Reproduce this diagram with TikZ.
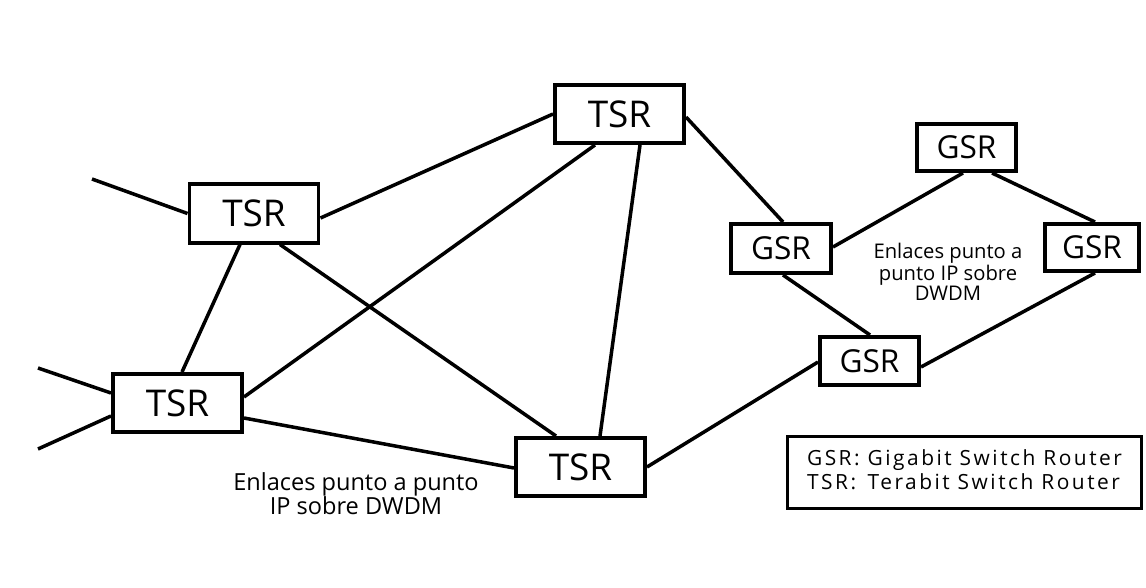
\documentclass[tikz,border=0pt]{standalone}
\usepackage{fontspec}
\setmainfont{Open Sans}
\newfontfamily\legendfont[LetterSpace=12]{Open Sans}
\usetikzlibrary{calc}
\begin{document}
\begin{tikzpicture}[x=0.02cm, y=-0.02cm,
  router/.style={draw, line width=2pt, inner sep=0pt, fill=white},
  tsr/.style={router, minimum width=2.59cm, minimum height=1.17cm,
              font=\fontsize{21}{24}\selectfont},
  gsr/.style={router, minimum width=1.99cm, minimum height=0.97cm,
              font=\fontsize{18}{20}\selectfont},
  link/.style={line width=2pt},
  note/.style={align=center, inner sep=0pt},
]
\useasboundingbox (0,0) rectangle (1146,588);

% Terabit routers
\node[tsr] (T1) at (619.5,114) {TSR};
\node[tsr] (T2) at (254,213.5) {TSR};
\node[tsr] (T3) at (177.5,403) {TSR};
\node[tsr] (T4) at (580.5,467) {TSR};

% Gigabit routers
\node[gsr, minimum width=2.01cm, minimum height=0.99cm] (G1) at (781,248.5) {GSR};
\node[gsr, minimum height=0.95cm] (G2) at (966.5,147.5) {GSR};
\node[gsr, minimum width=1.89cm, minimum height=0.95cm] (G3) at (1092,247.5) {GSR};
\node[gsr] (G4) at (869.5,361) {GSR};

% loose ends leaving the picture
\coordinate (fa) at (92,179);
\coordinate (fb) at (38,368);
\coordinate (fc) at (38,449);

% TSR core links
\draw[link] (fa) -- (T2.west);
\draw[link] (fb) -- ($(T3.west)+(0,-10)$);
\draw[link] (fc) -- ($(T3.west)+(0,13)$);
\draw[link] ($(T2.east)+(0,4.5)$) -- (T1.west);
\draw[link] ($(T2.south)+(-14,0)$) -- ($(T3.north)+(4.5,0)$);
\draw[link] ($(T2.south)+(26,0)$) -- ($(T4.north)+(-24.5,0)$);
\draw[link] ($(T3.east)+(0,-6)$) -- ($(T1.south)+(-24.5,0)$);
\draw[link] ($(T3.east)+(0,15)$) -- ($(T4.west)+(0,1)$);
\draw[link] ($(T4.north)+(19.5,0)$) -- ($(T1.south)+(20.5,0)$);

% links to the GSR ring
\draw[link] ($(T1.east)+(0,3)$) -- ($(G1.north)+(2,0)$);
\draw[link] (T4.east) -- ($(G4.west)+(0,1)$);
\draw[link] ($(G1.east)+(0,-1.5)$) -- ($(G2.south)+(-3.5,0)$);
\draw[link] ($(G2.south)+(25.5,0)$) -- ($(G3.north)+(3,0)$);
\draw[link] ($(G1.south)+(2,0)$) -- ($(G4.north)+(0.5,0)$);
\draw[link] ($(G3.south)+(3,0)$) -- ($(G4.east)+(0,6)$);

% link annotations
\node[note, font=\fontsize{11.5}{11.3}\selectfont] (ringnote) at (948,272)
  {Enlaces punto a\\punto IP sobre\\DWDM};
\node[note, font=\fontsize{13.4}{13.6}\selectfont] (corenote) at (356,494)
  {Enlaces punto a punto\\IP sobre DWDM};

% legend
\node[draw, line width=1.3pt, minimum width=7.08cm, minimum height=1.44cm,
      inner sep=0pt, font=\legendfont\fontsize{11.9}{13.6}\selectfont]
  (legend) at (964.5,472.5)
  {\begin{tabular}{@{}l@{ }l@{}}
   GSR: & Gigabit Switch Router\\
   TSR: & Terabit Switch Router
   \end{tabular}};
\end{tikzpicture}
\end{document}
